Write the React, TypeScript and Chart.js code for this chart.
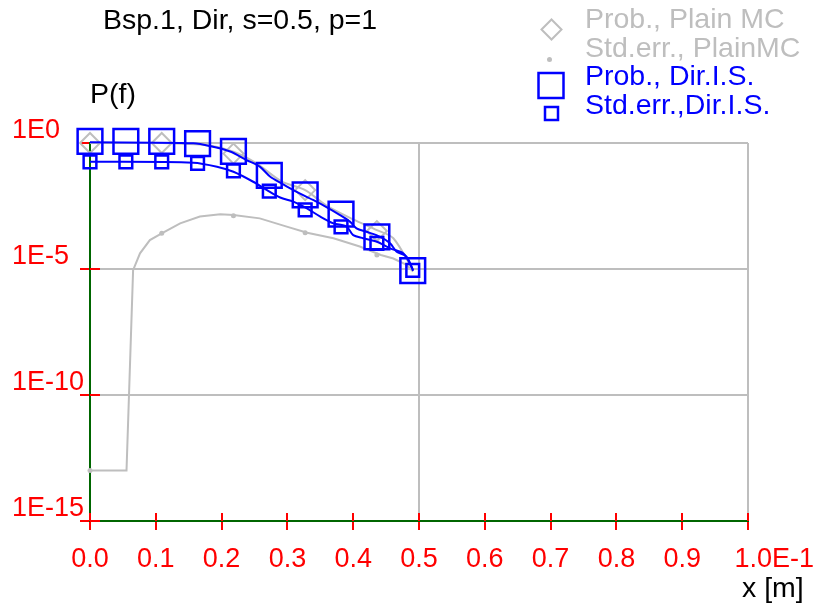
import { useEffect, useRef } from 'react';
import { Chart, registerables } from 'chart.js';

Chart.register(...registerables);

// ---- tick values / labels ----
const xTickValues = [0, 0.1, 0.2, 0.3, 0.4, 0.5, 0.6, 0.7, 0.8, 0.9, 1.0];
const xTickLabels = ['0.0', '0.1', '0.2', '0.3', '0.4', '0.5', '0.6', '0.7', '0.8', '0.9', '       1.0E-1'];
const yTickValues = [1, 1e-5, 1e-10, 1e-15];
const yTickLabels = ['1E0', '1E-5', '1E-10', '1E-15'];

// ---- Prob., Dir.I.S. (big squares) ----
const dirProbX = [0, 0.0545, 0.109, 0.1635, 0.218, 0.2725, 0.327, 0.3815, 0.436, 0.4905];
const dirProbY = [1.15, 1.15, 1.15, 0.95, 0.47, 0.052, 8.7e-3, 1.5e-3, 1.9e-4, 8.7e-6];

// ---- Std.err., Dir.I.S. (small squares) ----
const dirErrX = [0, 0.0545, 0.109, 0.1635, 0.218, 0.2725, 0.327, 0.3815, 0.436, 0.4905];
const dirErrY = [0.18, 0.18, 0.18, 0.155, 0.079, 0.0123, 2.2e-3, 4.7e-4, 1.05e-4, 8.9e-6];

// ---- Dir.I.S. curves ----
const dirProbLineX = [0, 0.157, 0.187, 0.213, 0.238, 0.258, 0.274, 0.291, 0.309, 0.339, 0.36, 0.38, 0.395, 0.405, 0.42, 0.441, 0.456, 0.466, 0.481, 0.491];
const dirProbLineY = [1.07, 0.98, 0.71, 0.46, 0.21, 0.115, 0.046, 0.025, 0.0135, 5.5e-3, 2.8e-3, 1.38e-3, 7.6e-4, 4.1e-4, 3.0e-4, 1.9e-4, 1.05e-4, 4.9e-5, 3.1e-5, 9e-6];
const dirErrLineX = [0, 0.157, 0.193, 0.218, 0.248, 0.269, 0.289, 0.309, 0.329, 0.35, 0.37, 0.39, 0.4, 0.415, 0.436, 0.456, 0.476, 0.486, 0.491];
const dirErrLineY = [0.18, 0.166, 0.115, 0.072, 0.029, 0.0135, 6.9e-3, 4.7e-3, 2.6e-3, 1.2e-3, 6.5e-4, 4.8e-4, 2.2e-4, 1.66e-4, 1.2e-4, 6.6e-5, 4.2e-5, 1.7e-5, 8.5e-6];

// ---- Prob., Plain MC (diamonds) ----
const mcProbX = [0, 0.109, 0.218, 0.327, 0.436];
const mcProbY = [1.0, 1.0, 0.38, 0.0135, 3.2e-4];

// ---- Std.err., PlainMC (dots) ----
const mcErrX = [0, 0.109, 0.218, 0.327, 0.436];
const mcErrY = [1e-13, 2.6e-4, 1.3e-3, 2.75e-4, 3.6e-5];

// ---- Plain MC curves ----
const mcProbLineX = [0, 0.109, 0.18, 0.218, 0.253, 0.291, 0.327, 0.36, 0.4, 0.436, 0.461, 0.491];
const mcProbLineY = [1.0, 1.0, 0.8, 0.45, 0.155, 0.03, 0.0135, 3.2e-3, 9.3e-4, 3.5e-4, 1.66e-4, 8.7e-6];
const mcErrLineX = [0, 0.0555, 0.0655, 0.076, 0.091, 0.109, 0.137, 0.167, 0.198, 0.218, 0.258, 0.299, 0.33, 0.37, 0.41, 0.442, 0.461, 0.481, 0.491];
const mcErrLineY = [1e-13, 1e-13, 9e-6, 4.2e-5, 1.4e-4, 2.6e-4, 6.5e-4, 1.2e-3, 1.48e-3, 1.4e-3, 1.02e-3, 4.8e-4, 2.75e-4, 1.66e-4, 7.8e-5, 3.6e-5, 2.6e-5, 1.45e-5, 8e-6];

const BLUE = '#0000ff';
const GRAY = '#bebebe';
const RED = '#ff0000';
const GREEN = '#006600';
const FAMILY = '"Liberation Sans", Arial, sans-serif';

const pts = (xs: number[], ys: number[]) => xs.map((x, i) => ({ x, y: ys[i] }));

const overlayPlugin = {
  id: 'overlay',
  beforeDatasetsDraw(chart: any) {
    const { ctx, scales } = chart;
    const xs = scales.x;
    const ys = scales.y;
    const area = chart.chartArea;
    ctx.save();
    ctx.strokeStyle = RED;
    ctx.lineWidth = 2;
    ctx.beginPath();
    xTickValues.forEach((v) => {
      const px = Math.round(xs.getPixelForValue(v));
      ctx.moveTo(px, area.bottom);
      ctx.lineTo(px, area.bottom - 8);
    });
    yTickValues.forEach((v) => {
      const py = Math.round(ys.getPixelForValue(v));
      ctx.moveTo(area.left, py);
      ctx.lineTo(area.left + 10, py);
    });
    ctx.stroke();
    ctx.restore();
  },
  afterDraw(chart: any) {
    const { ctx } = chart;
    ctx.save();
    ctx.font = `28.5px ${FAMILY}`;
    ctx.textBaseline = 'alphabetic';
    ctx.textAlign = 'left';
    ctx.fillStyle = '#000000';
    ctx.fillText('Bsp.1, Dir, s=0.5, p=1', 103, 29);
    ctx.fillText('P(f)', 90, 103);
    ctx.fillText('x [m]', 742, 597);

    // legend
    ctx.fillStyle = GRAY;
    ctx.fillText('Prob., Plain MC', 585, 28);
    ctx.fillText('Std.err., PlainMC', 585, 56.5);
    ctx.fillStyle = BLUE;
    ctx.fillText('Prob., Dir.I.S.', 585, 85);
    ctx.fillText('Std.err.,Dir.I.S.', 585, 113.5);

    ctx.lineWidth = 2;
    ctx.strokeStyle = GRAY;
    ctx.beginPath();
    ctx.moveTo(551.5 - 10, 29.5);
    ctx.lineTo(551.5, 19.5);
    ctx.lineTo(551.5 + 10, 29.5);
    ctx.lineTo(551.5, 39.5);
    ctx.closePath();
    ctx.stroke();
    ctx.fillStyle = GRAY;
    ctx.beginPath();
    ctx.arc(549.5, 59.5, 2.5, 0, Math.PI * 2);
    ctx.fill();
    ctx.strokeStyle = BLUE;
    ctx.lineWidth = 2.5;
    ctx.strokeRect(551 - 12.5, 85.5 - 12.5, 25, 25);
    ctx.strokeRect(551.5 - 6.5, 113.5 - 6.5, 13, 13);
    ctx.restore();
  },
};

export default function App() {
  const ref = useRef<HTMLCanvasElement | null>(null);
  useEffect(() => {
    if (!ref.current) return;
    const chart = new Chart(ref.current, {
      type: 'scatter',
      data: {
        datasets: [
          { label: 'Prob., Dir.I.S.', data: pts(dirProbX, dirProbY), showLine: false, pointStyle: 'rect', pointRadius: 17.5, pointBorderColor: BLUE, pointBackgroundColor: 'rgba(0,0,0,0)', pointBorderWidth: 2.5, order: 1, clip: false },
          { label: 'Std.err.,Dir.I.S.', data: pts(dirErrX, dirErrY), showLine: false, pointStyle: 'rect', pointRadius: 9, pointBorderColor: BLUE, pointBackgroundColor: 'rgba(0,0,0,0)', pointBorderWidth: 2.5, order: 2, clip: false },
          { label: 'dir prob line', data: pts(dirProbLineX, dirProbLineY), showLine: true, pointRadius: 0, borderColor: BLUE, borderWidth: 2, tension: 0.3, order: 3, clip: false },
          { label: 'dir err line', data: pts(dirErrLineX, dirErrLineY), showLine: true, pointRadius: 0, borderColor: BLUE, borderWidth: 2, tension: 0.3, order: 4, clip: false },
          { label: 'Prob., Plain MC', data: pts(mcProbX, mcProbY), showLine: false, pointStyle: 'rectRot', pointRadius: 10, pointBorderColor: GRAY, pointBackgroundColor: 'rgba(0,0,0,0)', pointBorderWidth: 2, order: 5, clip: false },
          { label: 'Std.err., PlainMC', data: pts(mcErrX, mcErrY), showLine: false, pointStyle: 'circle', pointRadius: 2.5, pointBorderWidth: 0, pointBackgroundColor: GRAY, pointBorderColor: GRAY, order: 6, clip: false },
          { label: 'mc prob line', data: pts(mcProbLineX, mcProbLineY), showLine: true, pointRadius: 0, borderColor: GRAY, borderWidth: 2, tension: 0.3, order: 7, clip: false },
          { label: 'mc err line', data: pts(mcErrLineX, mcErrLineY), showLine: true, pointRadius: 0, borderColor: GRAY, borderWidth: 2, tension: 0, order: 8, clip: false },
        ],
      },
      options: {
        animation: false,
        responsive: false,
        devicePixelRatio: 1,
        events: [],
        layout: { padding: { left: 12, top: 143, right: 67, bottom: 0 } },
        plugins: { legend: { display: false }, title: { display: false }, tooltip: { enabled: false } },
        scales: {
          x: {
            type: 'linear',
            min: 0,
            max: 1,
            afterBuildTicks: (s: any) => { s.ticks = xTickValues.map((v) => ({ value: v })); },
            afterFit: (s: any) => { s.height = 85; s.paddingLeft = 0; s.paddingRight = 0; },
            ticks: {
              autoSkip: false,
              maxRotation: 0,
              minRotation: 0,
              padding: 13,
              color: RED,
              font: { family: FAMILY, size: 27 },
              callback: (v: any) => { const i = xTickValues.findIndex((t) => Math.abs(t - v) < 1e-9); return i >= 0 ? xTickLabels[i] : ''; },
            },
            grid: {
              color: (c: any) => (c.tick && (Math.abs(c.tick.value - 0.5) < 1e-9 || Math.abs(c.tick.value - 1) < 1e-9) ? GRAY : 'rgba(0,0,0,0)'),
              lineWidth: 2,
              tickColor: RED,
              tickLength: 9,
              tickWidth: 2,
            },
            border: { display: true, color: GREEN, width: 2 },
          },
          y: {
            type: 'logarithmic',
            min: 1e-15,
            max: 1,
            afterBuildTicks: (s: any) => { s.ticks = yTickValues.map((v) => ({ value: v })); },
            afterFit: (s: any) => { s.width = 78; s.paddingTop = 0; s.paddingBottom = 0; },
            ticks: {
              crossAlign: 'far',
              labelOffset: -12,
              color: RED,
              font: { family: FAMILY, size: 27 },
              callback: (v: any) => { const i = yTickValues.findIndex((t) => Math.abs(Math.log10(t) - Math.log10(v)) < 1e-6); return i >= 0 ? yTickLabels[i] : ''; },
            },
            grid: {
              color: (c: any) => (c.tick && c.tick.value > 1e-14 ? GRAY : 'rgba(0,0,0,0)'),
              lineWidth: 2,
              tickColor: RED,
              tickLength: 10,
              tickWidth: 2,
            },
            border: { display: true, color: GREEN, width: 2 },
          },
        },
      },
      plugins: [overlayPlugin],
    } as any);
    return () => chart.destroy();
  }, []);
  return (
    <div style={{ position: 'absolute', left: 0, top: 0, width: 815, height: 606, background: '#ffffff' }}>
      <canvas ref={ref} width={815} height={606} style={{ display: 'block', width: 815, height: 606 }} />
    </div>
  );
}
